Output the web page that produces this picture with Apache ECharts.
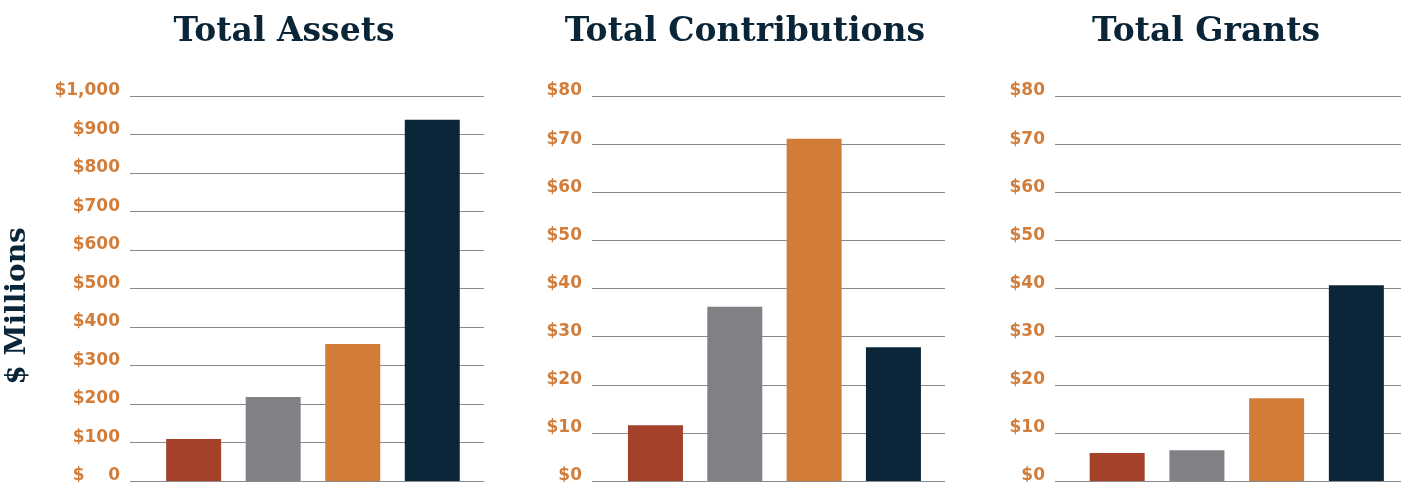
<!DOCTYPE html>
<html>
<head>
<meta charset="utf-8">
<script src="https://cdn.jsdelivr.net/npm/echarts@6/dist/echarts.min.js"></script>
<style>
  html, body { margin: 0; padding: 0; background: #fff; }
  #chart { width: 1401px; height: 482px; }
</style>
</head>
<body>
<div id="chart"></div>
<script>
// categories are not labelled in the picture, only told apart by colour
const categories = ['A', 'B', 'C', 'D']
const barColors = ['#A5402A', '#818085', '#D17D38', '#0A2638']

const titles = ['Total Assets', 'Total Contributions', 'Total Grants']
const assets = [109, 218, 356, 938]
const contributions = [11.6, 36.2, 71.1, 27.8]
const grants = [5.8, 6.4, 17.2, 40.7]

const assetTicks = ['$    0', '$100', '$200', '$300', '$400', '$500', '$600', '$700', '$800', '$900', '$1,000']
const smallTicks = ['$0', '$10', '$20', '$30', '$40', '$50', '$60', '$70', '$80']

const navy = '#0B2538'
const orange = '#D27D3A'
const gridGray = '#8a8a8a'

const panels = [
  { title: titles[0], values: assets, ticks: assetTicks, max: 1000, step: 100, left: 130, right: 917, xMin: -0.8, xMax: 3.65, cx: 279 },
  { title: titles[1], values: contributions, ticks: smallTicks, max: 80, step: 10, left: 592, right: 456, xMin: -0.8, xMax: 3.65, cx: 740 },
  { title: titles[2], values: grants, ticks: smallTicks, max: 80, step: 10, left: 1055, right: 0, xMin: -0.78, xMax: 3.56, cx: 1201 },
]

const chart = echarts.init(document.getElementById('chart'))

chart.setOption({
  animation: false,
  title: panels.map(p => ({
    text: p.title,
    left: p.cx,
    top: 11,
    textAlign: 'center',
    textStyle: { fontFamily: 'DejaVu Serif', fontWeight: 'bold', fontSize: 33, color: navy },
  })),
  graphic: [{
    type: 'text',
    x: 18,
    y: 306,
    rotation: Math.PI / 2,
    style: {
      text: '$ Millions',
      font: 'bold 28px "DejaVu Serif"',
      fill: navy,
      align: 'center',
      verticalAlign: 'middle',
    },
  }],
  grid: panels.map(p => ({ left: p.left, right: p.right, top: 96, bottom: 1, outerBoundsMode: 'none' })),
  xAxis: panels.map((p, i) => ({
    type: 'value',
    gridIndex: i,
    min: p.xMin,
    max: p.xMax,
    show: false,
  })),
  yAxis: panels.map((p, i) => ({
    type: 'value',
    gridIndex: i,
    min: 0,
    max: p.max,
    interval: p.step,
    axisLine: { show: false },
    axisTick: { show: false },
    splitLine: { lineStyle: { color: gridGray, width: 1 } },
    axisLabel: {
      margin: 10,
      lineHeight: 10,
      verticalAlign: 'bottom',
      color: orange,
      fontFamily: 'DejaVu Sans',
      fontWeight: 'bold',
      fontSize: 17,
      formatter: v => p.ticks[Math.round(v / p.step)],
    },
  })),
  series: panels.map((p, i) => ({
    type: 'bar',
    xAxisIndex: i,
    yAxisIndex: i,
    barWidth: 55,
    data: p.values.map((v, j) => ({
      name: categories[j],
      value: [j, v],
      itemStyle: { color: barColors[j] },
    })),
  })),
})
</script>
</body>
</html>
